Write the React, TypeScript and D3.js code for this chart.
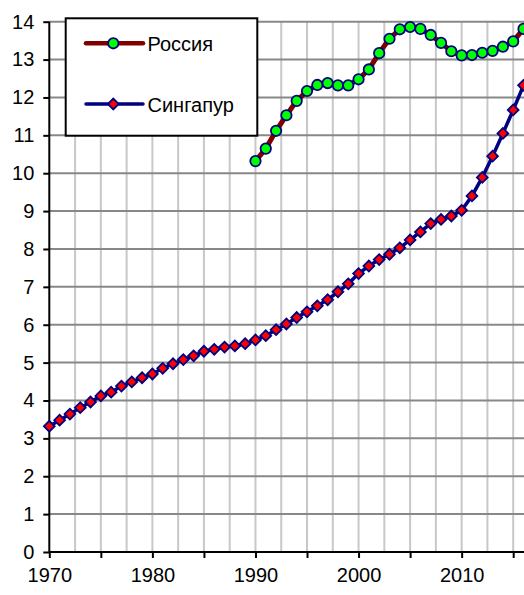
import * as d3 from 'd3';
import { useEffect, useRef } from 'react';

const years = d3.range(1970, 2017);
const singapore = [
  3.32, 3.48, 3.64, 3.81, 3.96, 4.12, 4.22, 4.38, 4.49, 4.6, 4.7, 4.85, 4.97, 5.08, 5.18, 5.3, 5.35, 5.41, 5.44,
  5.5, 5.6, 5.71, 5.87, 6.02, 6.19, 6.34, 6.5, 6.66, 6.87, 7.08, 7.35, 7.55, 7.72, 7.86, 8.03, 8.24, 8.45, 8.67,
  8.78, 8.87, 9.02, 9.4, 9.89, 10.45, 11.05, 11.67, 12.32,
];
const russiaYears = d3.range(1990, 2017);
const russia = [
  10.32, 10.65, 11.12, 11.53, 11.91, 12.17, 12.33, 12.38, 12.32, 12.32, 12.48, 12.74, 13.17, 13.55, 13.8, 13.86,
  13.81, 13.65, 13.44, 13.22, 13.11, 13.12, 13.18, 13.23, 13.34, 13.48, 13.81,
];
const yTicks = d3.range(0, 15);
const xLabels = [1970, 1980, 1990, 2000, 2010];
const seriesNames = ['Россия', 'Сингапур'];

const FONT = '"Liberation Sans", Arial, sans-serif';

const App = (): React.ReactElement => {
  const ref: any = useRef();
  const width = 524;
  const height = 595;

  useEffect(() => {
    const svg = d3.select(ref.current);
    svg.selectAll('*').remove();

    const x = d3.scaleLinear().domain([1970, 2016]).range([49.3, 523.5]);
    const y = d3.scaleLinear().domain([0, 14]).range([552, 21.7]);

    // vertical grid every 2.5 years
    svg
      .append('g')
      .selectAll('line')
      .data(d3.range(1972.5, 2018, 2.5))
      .enter()
      .append('line')
      .attr('x1', (d) => x(d))
      .attr('x2', (d) => x(d))
      .attr('y1', y(14))
      .attr('y2', y(0))
      .attr('stroke', '#c8c8c8')
      .attr('stroke-width', 2);

    // horizontal grid
    svg
      .append('g')
      .selectAll('line')
      .data(yTicks.slice(1))
      .enter()
      .append('line')
      .attr('x1', x(1970))
      .attr('x2', width)
      .attr('y1', (d) => y(d))
      .attr('y2', (d) => y(d))
      .attr('stroke', '#888888')
      .attr('stroke-width', 2);

    // y axis
    const yAxis = svg
      .append('g')
      .attr('transform', 'translate(' + x(1970) + ',0)')
      .call(d3.axisLeft(y).tickValues(yTicks).tickSize(6).tickPadding(9).tickFormat(d3.format('d')));
    yAxis.select('.domain').attr('stroke', '#000').attr('stroke-width', 2).attr('d', 'M0,' + y(14) + 'V' + y(0));
    yAxis.selectAll('.tick line').attr('stroke', '#000').attr('stroke-width', 2);
    yAxis.selectAll('text').attr('font-family', FONT).attr('font-size', 20).attr('fill', '#000');

    // x axis
    const xAxis = svg
      .append('g')
      .attr('transform', 'translate(0,' + y(0) + ')')
      .call(
        d3
          .axisBottom(x)
          .tickValues(d3.range(1970, 2017, 5))
          .tickSize(6)
          .tickPadding(10)
          .tickFormat((d: any) => (xLabels.includes(d) ? String(d) : '')),
      );
    xAxis.select('.domain').attr('stroke', '#000').attr('stroke-width', 2).attr('d', 'M' + x(1970) + ',0H' + width);
    xAxis.selectAll('.tick line').attr('stroke', '#000').attr('stroke-width', 2);
    xAxis.selectAll('text').attr('font-family', FONT).attr('font-size', 20).attr('fill', '#000');

    const line = d3
      .line<number>()
      .x((d, i) => x(years[i]))
      .y((d) => y(d));
    const lineR = d3
      .line<number>()
      .x((d, i) => x(russiaYears[i]))
      .y((d) => y(d));

    svg
      .append('path')
      .datum(singapore)
      .attr('d', line)
      .attr('fill', 'none')
      .attr('stroke', '#000080')
      .attr('stroke-width', 3.5);

    const diamond = d3.symbol().type(d3.symbolSquare).size(58);
    svg
      .append('g')
      .selectAll('path')
      .data(singapore)
      .enter()
      .append('path')
      .attr('d', diamond)
      .attr('transform', (d, i) => 'translate(' + x(years[i]) + ',' + y(d) + ') rotate(45)')
      .attr('fill', '#ff0000')
      .attr('stroke', '#000080')
      .attr('stroke-width', 1.8);

    svg
      .append('path')
      .datum(russia)
      .attr('d', lineR)
      .attr('fill', 'none')
      .attr('stroke', '#800000')
      .attr('stroke-width', 5);

    svg
      .append('g')
      .selectAll('circle')
      .data(russia)
      .enter()
      .append('circle')
      .attr('cx', (d, i) => x(russiaYears[i]))
      .attr('cy', (d) => y(d))
      .attr('r', 5.2)
      .attr('fill', '#00ff00')
      .attr('stroke', '#000080')
      .attr('stroke-width', 1.8);

    // legend
    const lg = svg.append('g');
    lg.append('rect')
      .attr('x', 65.7)
      .attr('y', 18.3)
      .attr('width', 191.6)
      .attr('height', 117.4)
      .attr('fill', '#fff')
      .attr('stroke', '#000')
      .attr('stroke-width', 2);

    lg.append('line')
      .attr('x1', 86)
      .attr('x2', 143)
      .attr('y1', 43.3)
      .attr('y2', 43.3)
      .attr('stroke', '#800000')
      .attr('stroke-width', 4.5)
      .attr('stroke-linecap', 'round');
    lg.append('circle')
      .attr('cx', 113.3)
      .attr('cy', 43.3)
      .attr('r', 5.2)
      .attr('fill', '#00ff00')
      .attr('stroke', '#000080')
      .attr('stroke-width', 1.8);

    lg.append('line')
      .attr('x1', 86)
      .attr('x2', 143)
      .attr('y1', 104)
      .attr('y2', 104)
      .attr('stroke', '#000080')
      .attr('stroke-width', 3.5)
      .attr('stroke-linecap', 'round');
    lg.append('path')
      .attr('d', diamond)
      .attr('transform', 'translate(113.3,104) rotate(45)')
      .attr('fill', '#ff0000')
      .attr('stroke', '#000080')
      .attr('stroke-width', 1.8);

    lg.selectAll('text')
      .data(seriesNames)
      .enter()
      .append('text')
      .attr('x', 147.5)
      .attr('y', (d, i) => (i === 0 ? 50.5 : 111.5))
      .attr('font-family', FONT)
      .attr('font-size', 20)
      .attr('fill', '#000')
      .text((d) => d);
  }, []);

  return (
    <svg
      ref={ref}
      width={width}
      height={height}
      style={{ position: 'absolute', left: 0, top: 0, background: '#fff' }}
    />
  );
};

export default App;
